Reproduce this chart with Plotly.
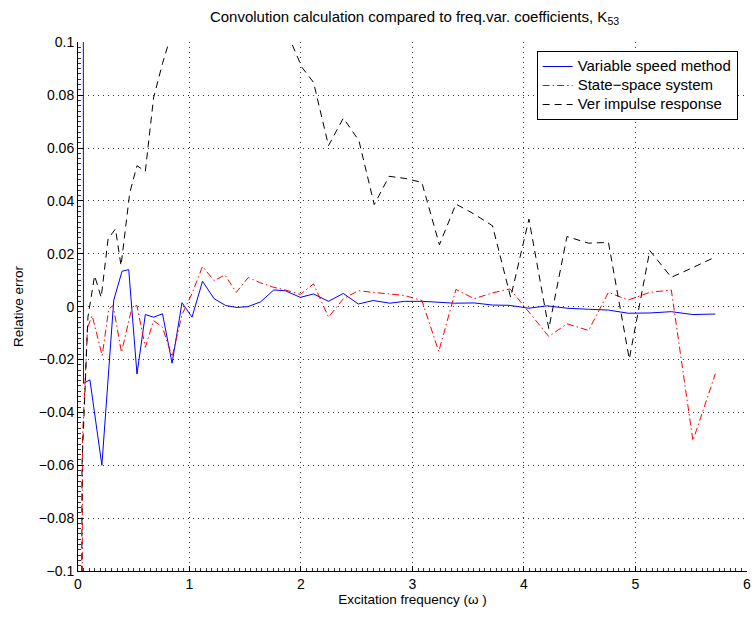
import plotly.graph_objects as go

# Excitation frequencies (rad/s) and relative errors for K53
freq_vsm = [0.040, 0.049, 0.107, 0.214, 0.321, 0.395, 0.455, 0.529, 0.604, 0.678,
            0.758, 0.844, 0.933, 1.023, 1.117, 1.221, 1.326, 1.426, 1.524, 1.638,
            1.756, 1.861, 1.994, 2.113, 2.247, 2.380, 2.514, 2.648, 2.797, 2.930,
            3.094, 3.227, 3.376, 3.554, 3.718, 3.866, 4.045, 4.208, 4.386, 4.580,
            4.758, 4.936, 5.129, 5.322, 5.516, 5.717]
err_vsm = [1.0, -0.029, -0.0277, -0.060, 0.0025, 0.0134, 0.014, -0.0255, -0.003, -0.004,
           -0.0027, -0.0214, 0.0015, -0.004, 0.0096, 0.003, 0.0004, -0.0003, 0.0, 0.0018,
           0.0063, 0.006, 0.0035, 0.0048, 0.002, 0.005, 0.001, 0.0023, 0.0013, 0.002,
           0.002, 0.0018, 0.0013, 0.0014, 0.0006, 0.0005, -0.0006, 0.0003, -0.0006, -0.001,
           -0.0013, -0.0025, -0.0024, -0.0019, -0.003, -0.0028]

freq_ss = [0.020, 0.040, 0.085, 0.127, 0.217, 0.276, 0.315, 0.390, 0.484, 0.529,
           0.604, 0.678, 0.758, 0.844, 0.933, 1.023, 1.117, 1.221, 1.317, 1.420,
           1.527, 1.638, 1.756, 1.861, 1.994, 2.113, 2.247, 2.380, 2.514, 2.648,
           2.797, 2.930, 3.085, 3.236, 3.390, 3.554, 3.718, 3.876, 4.223, 4.386,
           4.580, 4.758, 4.936, 5.129, 5.322, 5.516, 5.717]
err_ss = [-0.6, -0.05, -0.008, -0.0034, -0.0185, -0.0009, 0.0004, -0.0173, -0.0003, 0.0004,
          -0.0154, -0.0053, -0.0078, -0.019, -0.003, 0.005, 0.0152, 0.0098, 0.012, 0.0054,
          0.011, 0.009, 0.0073, 0.0063, 0.0046, 0.0086, -0.004, 0.003, 0.006, 0.0055,
          0.0048, 0.0042, 0.0023, -0.017, 0.0065, 0.003, 0.0052, 0.0067, -0.0113, -0.0065,
          -0.009, 0.0054, 0.0025, 0.0054, 0.0063, -0.0507, -0.0254]

freq_ir = [0.018, 0.036, 0.089, 0.149, 0.208, 0.270, 0.336, 0.386, 0.464, 0.529,
           0.604, 0.678, 0.758, 0.844, 0.933, 1.023, 1.117, 1.221, 1.326, 1.426,
           1.524, 1.638, 1.756, 1.861, 2.009, 2.113, 2.247, 2.380, 2.520, 2.657,
           2.791, 2.934, 3.084, 3.242, 3.390, 3.554, 3.718, 3.881, 4.045, 4.223,
           4.386, 4.580, 4.758, 4.945, 5.129, 5.322, 5.516, 5.709]
err_ir = [-0.5, -0.06, -0.004, 0.0117, 0.0035, 0.0256, 0.0294, 0.0155, 0.043, 0.0533,
          0.0512, 0.079, 0.092, 0.104, 0.12, 0.13, 0.14, 0.145, 0.14, 0.135,
          0.13, 0.125, 0.12, 0.105, 0.0905, 0.0848, 0.0609, 0.0713, 0.0628, 0.0386,
          0.0493, 0.0485, 0.047, 0.0234, 0.0388, 0.035, 0.0306, 0.0035, 0.0331, -0.0084,
          0.0265, 0.024, 0.0243, -0.0198, 0.0212, 0.0111, 0.0148, 0.0186]

y_ticks = [-0.1, -0.08, -0.06, -0.04, -0.02, 0, 0.02, 0.04, 0.06, 0.08, 0.1]
y_labels = ["\u22120.1", "\u22120.08", "\u22120.06", "\u22120.04", "\u22120.02", "0",
            "0.02", "0.04", "0.06", "0.08", "0.1"]
x_ticks = [0, 1, 2, 3, 4, 5, 6]

FONT = "Liberation Sans, Arial, Helvetica, sans-serif"


def legend_label(text):
    # larger glyphs than the legend's base font, keeping the rows compact
    return f"<span style='font-size:15px'>{text}</span>"


fig = go.Figure()
fig.add_trace(go.Scatter(x=freq_vsm, y=err_vsm, mode="lines",
                         name=legend_label("Variable speed method"),
                         line=dict(color="#0000ff", width=1)))
fig.add_trace(go.Scatter(x=freq_ss, y=err_ss, mode="lines",
                         name=legend_label("State\u2212space system"),
                         line=dict(color="#ff0000", width=1, dash="7px,3px,1.5px,3px")))
fig.add_trace(go.Scatter(x=freq_ir, y=err_ir, mode="lines",
                         name=legend_label("Ver impulse response"),
                         line=dict(color="#000000", width=1, dash="7px,5px")))

# Axes only on the left and bottom; the far edges get dotted grid lines
axis_common = dict(
    showline=True, linecolor="black", linewidth=1, mirror=False,
    ticks="inside", ticklen=5, tickcolor="black", tickwidth=1,
    showgrid=True, gridcolor="#333333", gridwidth=1, griddash="1px,4px",
    zeroline=False, tickfont=dict(family=FONT, size=14, color="black"),
)

fig.update_xaxes(range=[0, 6.001], tickvals=x_ticks, ticktext=[str(v) for v in x_ticks],
                 title=dict(text="Excitation frequency (\u03c9 )", standoff=3,
                            font=dict(family=FONT, size=13.5, color="black")),
                 minor=dict(ticks="inside", dtick=0.05, ticklen=3, tickcolor="#333333",
                            showgrid=False),
                 **axis_common)
fig.update_yaxes(range=[-0.1, 0.1001], tickvals=y_ticks, ticktext=y_labels,
                 title=dict(text="Relative error", standoff=12,
                            font=dict(family=FONT, size=13.5, color="black")),
                 minor=dict(ticks="inside", dtick=0.002, ticklen=3, tickcolor="#333333",
                            showgrid=False),
                 **axis_common)

fig.update_layout(
    width=755, height=617,
    margin=dict(l=78, r=4, t=42, b=46),
    paper_bgcolor="white", plot_bgcolor="white",
    font=dict(family=FONT, size=13, color="black"),
    title=dict(text="Convolution calculation compared to freq.var. coefficients, K<sub>53</sub>",
               x=0.549, xanchor="center", y=1 - 17 / 617, yanchor="middle",
               font=dict(family=FONT, size=15, color="black")),
    legend=dict(x=0.986, y=0.983, xanchor="right", yanchor="top",
                bgcolor="white", bordercolor="black", borderwidth=1,
                font=dict(family=FONT, size=11, color="black"),
                tracegroupgap=0, itemwidth=30),
    showlegend=True,
)

fig.write_html("out.html")
